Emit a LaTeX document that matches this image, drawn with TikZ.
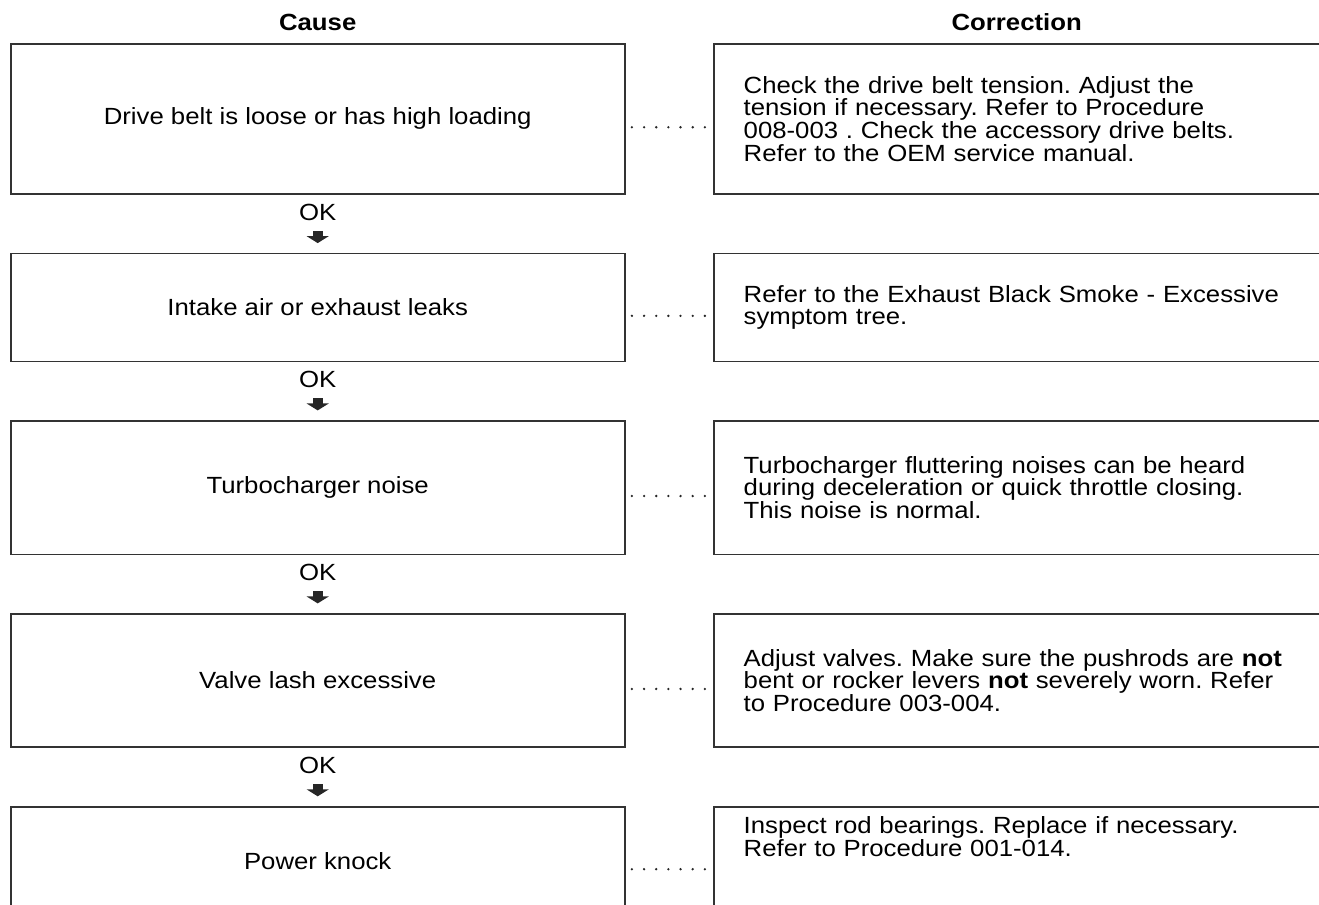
\documentclass[tikz,border=0pt]{standalone}
\usepackage{fontspec}
\setmainfont[FakeStretch=1.1]{Liberation Sans}
\usetikzlibrary{arrows.meta,positioning}
\frenchspacing
\newcommand{\bodyfont}{\fontsize{11.7}{11.3}\selectfont\lineskiplimit=-20pt}
\tikzset{
  causebox/.style={
    draw=black!80,
    line width=0.8pt,
    minimum width=307pt,
    align=center,
    inner sep=0pt,
    font=\bodyfont
  },
  fixbox/.style={
    draw=black!80,
    line width=0.8pt,
    text width=273pt,
    inner xsep=14.9pt,
    inner ysep=0pt,
    align=left,
    font=\bodyfont
  },
  head/.style={font=\bodyfont\bfseries, inner sep=0pt, text depth=0pt},
  oklabel/.style={font=\bodyfont, inner sep=0pt, text depth=0pt},
  okarrow/.style={-{Triangle[width=11pt,length=3.5pt]}, line width=5pt, draw=black!85},
  leader/.style={draw=black!85, line width=1.3pt, line cap=round, dash pattern=on 0pt off 6.08pt}
}

\begin{document}
\begin{tikzpicture}[x=0.5pt, y=-0.5pt]
\useasboundingbox (0,0) rectangle (1319,905);

% causes
\node[causebox, minimum height=75.15pt] (c1) at (317.7,118.85) {Drive belt is loose or has high loading};
\node[causebox, minimum height=53.85pt, below=29pt of c1] (c2) {Intake air or exhaust leaks};
\node[causebox, minimum height=66.7pt, below=29pt of c2] (c3) {Turbocharger noise};
\node[causebox, minimum height=66.65pt, below=29pt of c3] (c4) {Valve lash excessive};
\node[causebox, minimum height=54pt, below=29pt of c4] (c5) {Power knock};

% corrections
\node[fixbox, minimum height=75.15pt, right=43.8pt of c1] (r1) {Check the drive belt tension. Adjust the\\tension if necessary. Refer to Procedure\\008-003 . Check the accessory drive belts.\\Refer to the OEM service manual.};
\node[fixbox, minimum height=53.85pt, right=43.8pt of c2] (r2) {Refer to the Exhaust Black Smoke - Excessive\\symptom tree.};
\node[fixbox, minimum height=66.7pt, right=43.8pt of c3] (r3) {Turbocharger fluttering noises can be heard\\during deceleration or quick throttle closing.\\This noise is normal.};
\node[fixbox, minimum height=66.65pt, right=43.8pt of c4] (r4) {Adjust valves. Make sure the pushrods are \textbf{not}\\bent or rocker levers \textbf{not} severely worn. Refer\\to Procedure 003-004.};
\node[fixbox, minimum height=54pt, right=43.8pt of c5] (r5) {Inspect rod bearings. Replace if necessary.\\Refer to Procedure 001-014.\\[13pt]\mbox{}};

% headings
\node[head, above=5.8pt of c1] (cause) {Cause};
\node[head, above=5.8pt of r1] (correction) {Correction};

% OK steps
\foreach \i/\j in {1/2,2/3,3/4,4/5}{
  \node[oklabel, below=4.3pt of c\i] (ok\i) {OK};
  \draw[okarrow] ([yshift=-5.2pt]ok\i.south) -- ([yshift=4.85pt]c\j.north);
}

% dotted leaders
\foreach \i in {1,...,5}
  \draw[leader] ([shift={(3.2pt,-4.2pt)}]c\i.east) -- ([shift={(-4pt,-4.2pt)}]r\i.west);
\end{tikzpicture}
\end{document}
